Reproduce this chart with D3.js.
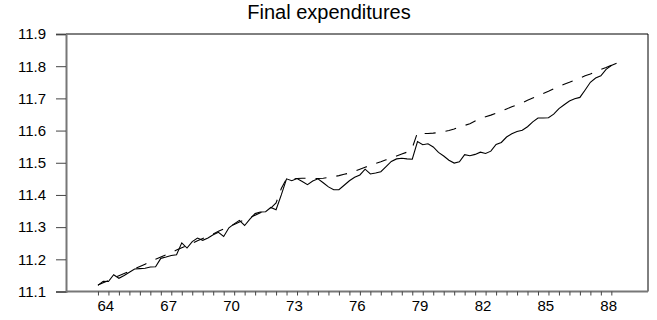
<!DOCTYPE html>
<html>
<head>
<meta charset="utf-8">
<script src="https://cdn.jsdelivr.net/npm/d3@7"></script>
<style>
  html, body { margin: 0; padding: 0; background: #fff; }
  svg { display: block; }
  text { font-family: "Liberation Sans", Arial, Helvetica, sans-serif; fill: #000; }
</style>
</head>
<body>
<script>
// ---- data ----
const title = "Final expenditures";
const startYear = 1964;
// quarterly observations, 1964Q1 .. 1988Q4
const actual = [
  11.119, 11.132, 11.131, 11.152,
  11.141, 11.150, 11.160, 11.170,
  11.171, 11.172, 11.176, 11.177,
  11.203, 11.207, 11.212, 11.214,
  11.251, 11.235, 11.255, 11.266,
  11.259, 11.266, 11.276, 11.284,
  11.271, 11.298, 11.310, 11.321,
  11.305, 11.325, 11.342, 11.347,
  11.348, 11.361, 11.354, 11.400,
  11.450, 11.444, 11.451, 11.442,
  11.432, 11.443, 11.450, 11.438,
  11.425, 11.416, 11.416, 11.430,
  11.444, 11.455, 11.462, 11.480,
  11.465, 11.468, 11.472, 11.488,
  11.504, 11.512, 11.514, 11.512,
  11.511, 11.566, 11.556, 11.559,
  11.549, 11.532, 11.521, 11.508,
  11.499, 11.503, 11.525, 11.522,
  11.526, 11.533, 11.529, 11.536,
  11.557, 11.563, 11.580, 11.590,
  11.597, 11.601, 11.612, 11.627,
  11.639, 11.639, 11.640, 11.651,
  11.668, 11.680, 11.692, 11.699,
  11.703, 11.726, 11.750, 11.763,
  11.770, 11.790, 11.802, 11.809
];
const fitted = [
  11.120, 11.127, 11.134, 11.142,
  11.149, 11.156, 11.163, 11.171,
  11.178, 11.185, 11.192, 11.200,
  11.207, 11.214, 11.221, 11.229,
  11.236, 11.243, 11.250, 11.258,
  11.265, 11.272, 11.279, 11.287,
  11.294, 11.301, 11.308, 11.316,
  11.323, 11.330, 11.337, 11.345,
  11.352, 11.359, 11.375, 11.420,
  11.450, 11.450, 11.451, 11.452,
  11.452, 11.451, 11.451, 11.452,
  11.454, 11.457, 11.460, 11.464,
  11.468, 11.474, 11.480, 11.486,
  11.492, 11.498, 11.503, 11.509,
  11.515, 11.521, 11.527, 11.533,
  11.546, 11.594, 11.591, 11.591,
  11.592, 11.594, 11.597, 11.600,
  11.605, 11.611, 11.616, 11.621,
  11.630, 11.638, 11.643, 11.648,
  11.654, 11.660, 11.667, 11.674,
  11.680, 11.686, 11.694, 11.701,
  11.708, 11.715, 11.722, 11.730,
  11.737, 11.744, 11.750, 11.757,
  11.763, 11.770, 11.776, 11.783,
  11.790, 11.796, 11.803, 11.809
];
const xTickLabels = ["64", "67", "70", "73", "76", "79", "82", "85", "88"];
const yTicks = [11.1, 11.2, 11.3, 11.4, 11.5, 11.6, 11.7, 11.8, 11.9];

// ---- layout ----
const W = 657, H = 320;
const mLeft = 66, mRight = 648, mTop = 34, mBottom = 291.5;

const periods = actual.map((_, i) => i); // quarter index from 1964Q1

const x = d3.scaleLinear().domain([-6.1, 105.0]).range([mLeft, mRight]);
const y = d3.scaleLinear().domain([11.1, 11.9]).range([mBottom, mTop]);

const svg = d3.select("body").append("svg").attr("width", W).attr("height", H);

// title
svg.append("text")
  .attr("x", 329).attr("y", 19)
  .attr("text-anchor", "middle")
  .style("font-size", "20px")
  .text(title);

// frame (top & right black)
svg.append("path")
  .attr("d", `M${mLeft},${mTop}H${mRight}V${mBottom}`)
  .attr("fill", "none").attr("stroke", "#000").attr("stroke-width", 1);

// y axis
const yAxis = d3.axisLeft(y).tickValues(yTicks).tickFormat(d3.format(".1f"))
  .tickSize(10).tickPadding(10);
const gy = svg.append("g").attr("transform", `translate(${mLeft},0)`).call(yAxis);
gy.select(".domain").attr("stroke", "#777").attr("stroke-width", 2);
gy.selectAll(".tick line").attr("stroke", "#444");
gy.selectAll(".tick text").style("font-size", "15px").attr("fill", "#000");

// x axis: ticks every 2 quarters, labels every 12 quarters
const tickIdx = d3.range(0, actual.length, 2);
const xAxis = d3.axisBottom(x).tickValues(tickIdx)
  .tickFormat(d => (d % 12 === 0 ? xTickLabels[d / 12] : ""))
  .tickSize(4).tickPadding(5).tickSizeOuter(0);
const gx = svg.append("g").attr("transform", `translate(0,${mBottom})`).call(xAxis);
gx.select(".domain").attr("stroke", "#777").attr("stroke-width", 2)
  .attr("d", `M${mLeft},0H${mRight}`);
gx.selectAll(".tick line").attr("stroke", "#444");
gx.selectAll(".tick text").style("font-size", "15px").attr("fill", "#000")
  .attr("text-anchor", "start").attr("dx", "-1");

// lines
const line = d3.line().x((d, i) => x(periods[i])).y(d => y(d));

svg.append("path").datum(fitted)
  .attr("d", line)
  .attr("fill", "none").attr("stroke", "#000").attr("stroke-width", 1.1)
  .attr("stroke-dasharray", "11,10");

svg.append("path").datum(actual)
  .attr("d", line)
  .attr("fill", "none").attr("stroke", "#000").attr("stroke-width", 1.1);
</script>
</body>
</html>
